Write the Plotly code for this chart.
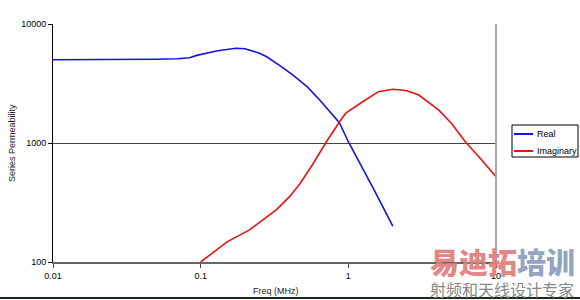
import plotly.graph_objects as go

# ---- data ----
real_freq = [0.01, 0.02, 0.04, 0.05, 0.07, 0.084, 0.094, 0.11, 0.128, 0.15, 0.174, 0.2,
             0.25, 0.28, 0.34, 0.42, 0.53, 0.64, 0.75, 0.87, 1.0, 1.2, 1.5, 2.0]
real_vals = [5000, 5000, 5020, 5050, 5100, 5200, 5450, 5700, 5930, 6100, 6250, 6200,
             5680, 5300, 4520, 3730, 2950, 2300, 1850, 1480, 1025, 680, 400, 200]

imag_freq = [0.1, 0.15, 0.214, 0.325, 0.4, 0.47, 0.57, 0.71, 0.87, 0.96, 1.25, 1.6,
             2.0, 2.5, 3.0, 4.1, 5.0, 6.2, 8.0, 10]
imag_vals = [100, 147, 186, 274, 354, 455, 653, 1025, 1500, 1780, 2220, 2700,
             2830, 2750, 2530, 1890, 1460, 1025, 720, 520]

x_ticks = [0.01, 0.1, 1, 10]
x_tick_text = ["0.01", "0.1", "1", "10"]
y_ticks = [100, 1000, 10000]
y_tick_text = ["100", "1000", "10000"]

series_names = ["Real", "Imaginary"]
series_colors = ["#1414e6", "#ee1111"]

W, H = 580, 300
L, R, T, B = 53, 496, 24, 262
FONT = "Liberation Sans, Arial, sans-serif"


def px(x):
    return (x - L) / (R - L)


def py(y):
    return (B - y) / (B - T)


fig = go.Figure()
fig.add_trace(go.Scatter(x=real_freq, y=real_vals, mode="lines", name=series_names[0],
                         line=dict(color=series_colors[0], width=1.6), showlegend=False))
fig.add_trace(go.Scatter(x=imag_freq, y=imag_vals, mode="lines", name=series_names[1],
                         line=dict(color=series_colors[1], width=1.6), showlegend=False))

shapes = [
    # right border of plot area
    dict(type="line", xref="paper", yref="paper", x0=1, x1=1, y0=0, y1=1,
         line=dict(color="#a8a8a8", width=2)),
    # legend box
    dict(type="rect", xref="paper", yref="paper", x0=px(512), x1=px(578), y0=py(157), y1=py(125),
         line=dict(color="#000000", width=1), fillcolor="white"),
    dict(type="line", xref="paper", yref="paper", x0=px(514), x1=px(533), y0=py(134), y1=py(134),
         line=dict(color=series_colors[0], width=2)),
    dict(type="line", xref="paper", yref="paper", x0=px(514), x1=px(533), y0=py(151), y1=py(151),
         line=dict(color=series_colors[1], width=2)),
    # bottom frame line
    dict(type="line", xref="paper", yref="paper", x0=px(0), x1=px(580), y0=py(298), y1=py(298),
         line=dict(color="#14301a", width=2)),
]

annotations = [
    dict(text=series_names[0], xref="paper", yref="paper", x=px(535), y=py(134), xanchor="left",
         yanchor="middle", showarrow=False, font=dict(family=FONT, size=9, color="#000")),
    dict(text=series_names[1], xref="paper", yref="paper", x=px(535), y=py(151), xanchor="left",
         yanchor="middle", showarrow=False, font=dict(family=FONT, size=9, color="#000")),
    dict(text="Series Permeability", xref="paper", yref="paper", x=px(12), y=py(143),
         xanchor="center", yanchor="middle", textangle=-90, showarrow=False,
         font=dict(family=FONT, size=9, color="#222")),
    dict(text="Freq (MHz)", xref="paper", yref="paper", x=px(276), y=py(291),
         xanchor="center", yanchor="middle", showarrow=False,
         font=dict(family=FONT, size=9, color="#222")),
    # watermark
    dict(text='<span style="color:#e07c7c">易迪拓</span><span style="color:#8c9ec0">培训</span>',
         xref="paper", yref="paper", x=px(502), y=py(261), xanchor="center", yanchor="middle",
         showarrow=False, opacity=0.92,
         font=dict(family="Noto Sans CJK SC", size=29, weight=900)),
    dict(text="射频和天线设计专家", xref="paper", yref="paper", x=px(502), y=py(289),
         xanchor="center", yanchor="middle", showarrow=False,
         font=dict(family="Noto Sans CJK SC", size=16, color="#888888")),
]

fig.update_layout(
    width=W, height=H,
    margin=dict(l=L, r=W - R, t=T, b=H - B, pad=0),
    paper_bgcolor="white", plot_bgcolor="white",
    font=dict(family=FONT, size=9, color="#000"),
    shapes=shapes, annotations=annotations,
    showlegend=False,
)
fig.update_xaxes(type="log", range=[-2, 1], tickvals=x_ticks, ticktext=x_tick_text,
                 showgrid=False, showline=True, linecolor="#666", linewidth=2,
                 ticks="outside", ticklen=4, tickcolor="#444", tickwidth=1,
                 tickfont=dict(family=FONT, size=9, color="#000"), zeroline=False)
fig.update_yaxes(type="log", range=[2, 4], tickvals=y_ticks, ticktext=y_tick_text,
                 showgrid=True, gridcolor="#444", gridwidth=1,
                 showline=True, linecolor="#000", linewidth=1,
                 ticks="outside", ticklen=4, tickcolor="#000", tickwidth=1,
                 tickfont=dict(family=FONT, size=9, color="#000"), zeroline=False)

fig.write_html("out.html")
